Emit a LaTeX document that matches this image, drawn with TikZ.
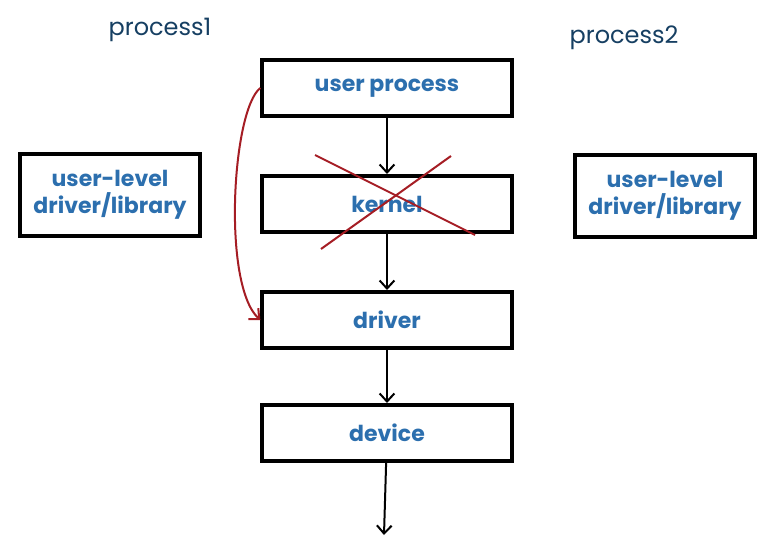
\documentclass[tikz,border=0pt]{standalone}
\usepackage{fontspec}
\setmainfont{Poppins}
\usetikzlibrary{arrows.meta}

\definecolor{boxblue}{HTML}{2C6FAE}
\definecolor{inkblue}{HTML}{163F62}
\definecolor{penred}{HTML}{A51D24}

\tikzset{
  layer/.style={rectangle, draw=black, line width=3pt, text=boxblue, align=center,
    font=\bfseries\fontsize{16.5}{20}\selectfont, minimum width=187pt, minimum height=42pt},
  libbox/.style={layer, minimum width=135pt, minimum height=62pt},
  hand/.style={text=inkblue, font=\fontsize{18}{20}\selectfont},
  flow/.style={-{Straight Barb[length=6pt,width=11pt]}, line width=1.5pt},
}

\begin{document}
\begin{tikzpicture}[x=0.75pt, y=-0.75pt]
  \useasboundingbox (0,0) rectangle (776,546);

  \node[hand] (p1) at (160,30) {process1};
  \node[hand] (p2) at (624,38) {process2};

  \node[layer] (user) at (387,88) {user process};
  \node[layer] (kernel) at (387,204) {kernel};
  \node[layer] (driver) at (387,320) {driver};
  \node[layer] (device) at (387,433) {device};
  \coordinate (out) at (384,535);

  \node[libbox] (lib1) at (110,195) {user-level\\driver/library};
  \node[libbox] (lib2) at (665,196) {user-level\\driver/library};

  \draw[flow] (user) -- (kernel);
  \draw[flow] (kernel) -- (driver);
  \draw[flow] (driver) -- (device);
  \draw[flow] (device) -- (out);

  % bypass the kernel
  \draw[penred, line width=1.5pt, -{Straight Barb[length=6pt,width=11pt]}]
    (user.west) .. controls (232,110) and (222,285) .. (driver.west);
  \draw[penred, line width=1.5pt] (315,155) -- (475,235);
  \draw[penred, line width=1.5pt] (451,156) -- (321,249);
\end{tikzpicture}
\end{document}
